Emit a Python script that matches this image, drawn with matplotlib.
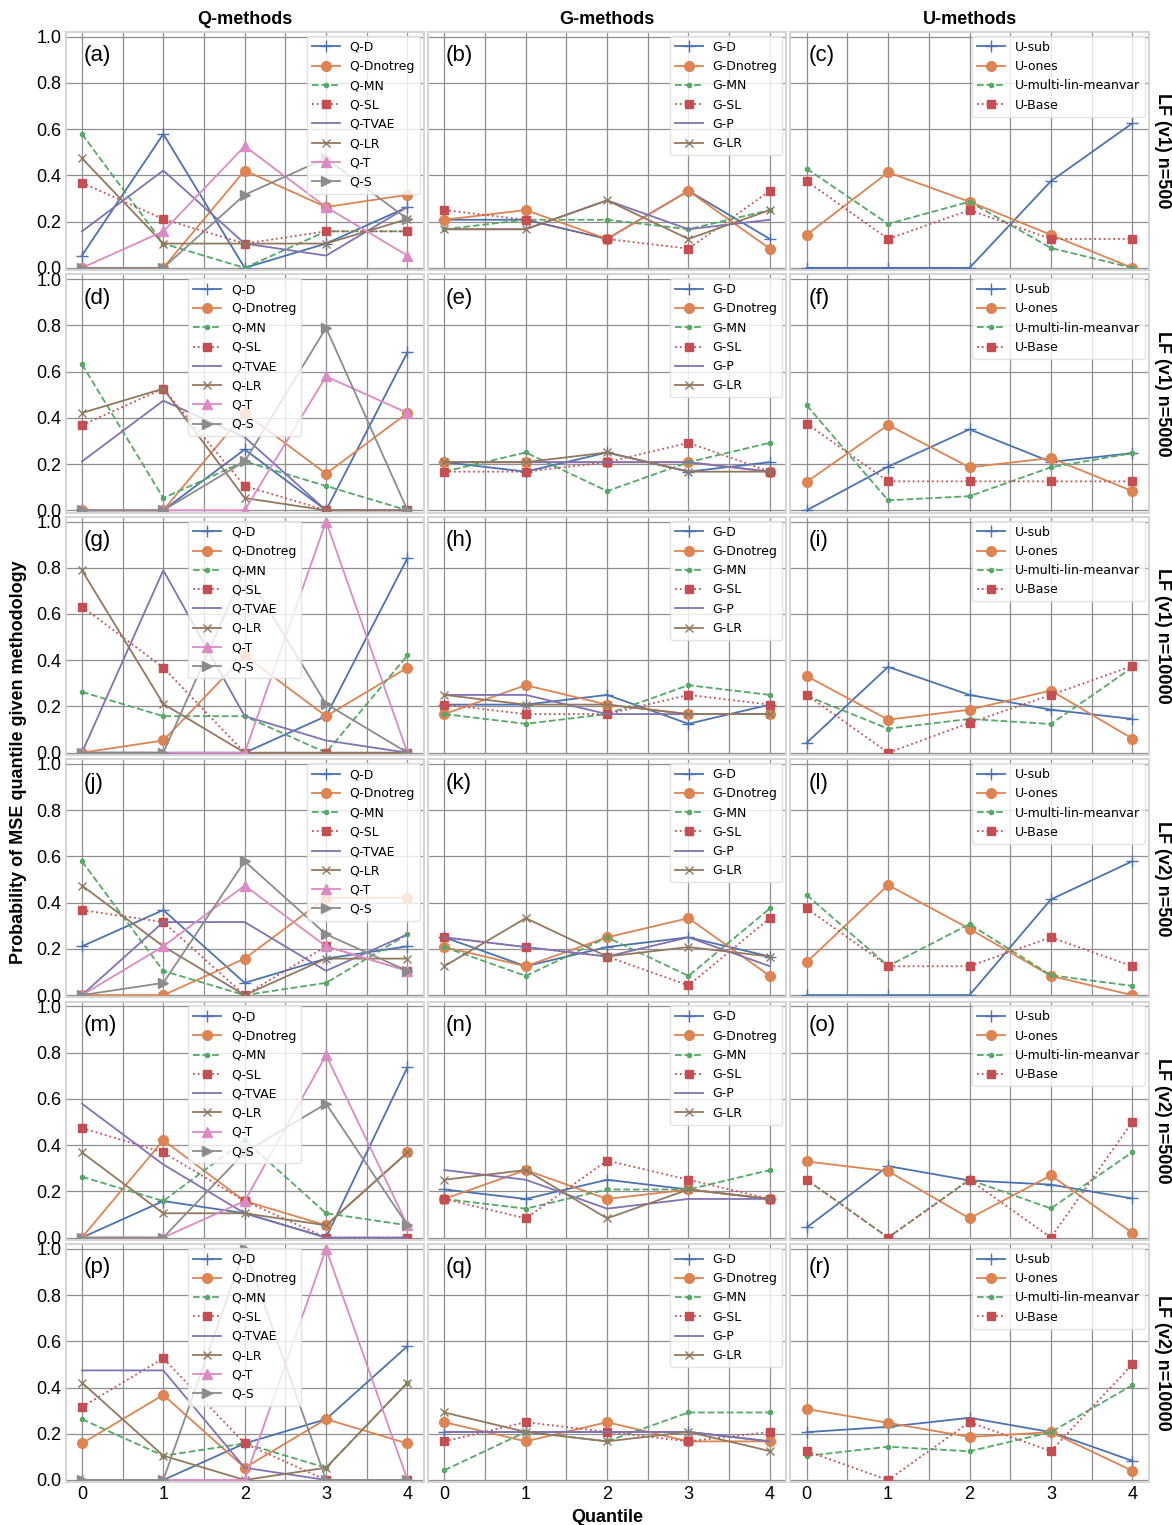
import numpy as np
import matplotlib
matplotlib.use("Agg")
import matplotlib.pyplot as plt
from matplotlib.ticker import MultipleLocator

plt.rcParams["font.family"] = ["Liberation Sans", "DejaVu Sans"]

quantiles = [0, 1, 2, 3, 4]

q_methods = ["Q-D", "Q-Dnotreg", "Q-MN", "Q-SL", "Q-TVAE", "Q-LR", "Q-T", "Q-S"]
g_methods = ["G-D", "G-Dnotreg", "G-MN", "G-SL", "G-P", "G-LR"]
u_methods = ["U-sub", "U-ones", "U-multi-lin-meanvar", "U-Base"]

row_labels = ["LF (v1) n=500", "LF (v1) n=5000", "LF (v1) n=10000",
              "LF (v2) n=500", "LF (v2) n=5000", "LF (v2) n=10000"]
col_titles = ["Q-methods", "G-methods", "U-methods"]
panel_letters = ["(a)", "(b)", "(c)", "(d)", "(e)", "(f)", "(g)", "(h)", "(i)",
                 "(j)", "(k)", "(l)", "(m)", "(n)", "(o)", "(p)", "(q)", "(r)"]

# Q-methods, one row per method (order of q_methods)
q_a = [[0.053, 0.579, 0.0, 0.105, 0.263],
       [0.0, 0.0, 0.421, 0.263, 0.316],
       [0.579, 0.105, 0.0, 0.158, 0.158],
       [0.368, 0.211, 0.105, 0.158, 0.158],
       [0.158, 0.421, 0.105, 0.053, 0.263],
       [0.474, 0.105, 0.105, 0.105, 0.211],
       [0.0, 0.158, 0.526, 0.263, 0.053],
       [0.0, 0.0, 0.316, 0.474, 0.211]]
q_d = [[0.0, 0.0, 0.263, 0.0, 0.684],
       [0.0, 0.0, 0.421, 0.158, 0.421],
       [0.632, 0.053, 0.211, 0.105, 0.0],
       [0.368, 0.526, 0.105, 0.0, 0.0],
       [0.211, 0.474, 0.316, 0.0, 0.0],
       [0.421, 0.526, 0.053, 0.0, 0.0],
       [0.0, 0.0, 0.0, 0.579, 0.421],
       [0.0, 0.0, 0.211, 0.789, 0.0]]
q_g = [[0.0, 0.0, 0.0, 0.158, 0.842],
       [0.0, 0.053, 0.421, 0.158, 0.368],
       [0.263, 0.158, 0.158, 0.0, 0.421],
       [0.632, 0.368, 0.0, 0.0, 0.0],
       [0.0, 0.789, 0.158, 0.053, 0.0],
       [0.789, 0.211, 0.0, 0.0, 0.0],
       [0.0, 0.0, 0.0, 1.0, 0.0],
       [0.0, 0.0, 0.789, 0.211, 0.0]]
q_j = [[0.211, 0.368, 0.053, 0.158, 0.211],
       [0.0, 0.0, 0.158, 0.421, 0.421],
       [0.579, 0.105, 0.0, 0.053, 0.263],
       [0.368, 0.316, 0.0, 0.211, 0.105],
       [0.0, 0.316, 0.316, 0.105, 0.263],
       [0.474, 0.211, 0.0, 0.158, 0.158],
       [0.0, 0.211, 0.474, 0.211, 0.105],
       [0.0, 0.053, 0.579, 0.263, 0.105]]
q_m = [[0.0, 0.158, 0.105, 0.0, 0.737],
       [0.0, 0.421, 0.158, 0.053, 0.368],
       [0.263, 0.158, 0.421, 0.105, 0.053],
       [0.474, 0.368, 0.158, 0.0, 0.0],
       [0.579, 0.316, 0.105, 0.0, 0.0],
       [0.368, 0.105, 0.105, 0.053, 0.368],
       [0.0, 0.0, 0.158, 0.789, 0.053],
       [0.0, 0.0, 0.368, 0.579, 0.053]]
q_p = [[0.0, 0.0, 0.158, 0.263, 0.579],
       [0.158, 0.368, 0.053, 0.263, 0.158],
       [0.263, 0.105, 0.158, 0.053, 0.421],
       [0.316, 0.526, 0.158, 0.0, 0.0],
       [0.474, 0.474, 0.053, 0.0, 0.0],
       [0.421, 0.105, 0.0, 0.053, 0.421],
       [0.0, 0.0, 0.0, 1.0, 0.0],
       [0.0, 0.0, 1.0, 0.0, 0.0]]

# G-methods (order of g_methods)
g_b = [[0.208, 0.208, 0.125, 0.333, 0.125],
       [0.208, 0.25, 0.125, 0.333, 0.083],
       [0.167, 0.208, 0.208, 0.167, 0.25],
       [0.25, 0.208, 0.125, 0.083, 0.333],
       [0.167, 0.167, 0.292, 0.167, 0.208],
       [0.167, 0.167, 0.292, 0.125, 0.25]]
g_e = [[0.208, 0.167, 0.25, 0.167, 0.208],
       [0.208, 0.208, 0.208, 0.208, 0.167],
       [0.167, 0.25, 0.083, 0.208, 0.292],
       [0.167, 0.167, 0.208, 0.292, 0.167],
       [0.208, 0.208, 0.208, 0.208, 0.167],
       [0.208, 0.208, 0.25, 0.167, 0.167]]
g_h = [[0.208, 0.208, 0.25, 0.125, 0.208],
       [0.167, 0.292, 0.208, 0.167, 0.167],
       [0.167, 0.125, 0.167, 0.292, 0.25],
       [0.208, 0.167, 0.167, 0.25, 0.208],
       [0.25, 0.25, 0.167, 0.167, 0.167],
       [0.25, 0.208, 0.208, 0.167, 0.167]]
g_k = [[0.25, 0.125, 0.208, 0.25, 0.167],
       [0.208, 0.125, 0.25, 0.333, 0.083],
       [0.208, 0.083, 0.25, 0.083, 0.375],
       [0.25, 0.208, 0.167, 0.042, 0.333],
       [0.25, 0.208, 0.167, 0.25, 0.125],
       [0.125, 0.333, 0.167, 0.208, 0.167]]
g_n = [[0.208, 0.167, 0.25, 0.208, 0.167],
       [0.167, 0.292, 0.167, 0.208, 0.167],
       [0.167, 0.125, 0.208, 0.208, 0.292],
       [0.167, 0.083, 0.333, 0.25, 0.167],
       [0.292, 0.25, 0.125, 0.167, 0.167],
       [0.25, 0.292, 0.083, 0.208, 0.167]]
g_q = [[0.208, 0.208, 0.208, 0.208, 0.167],
       [0.25, 0.167, 0.25, 0.167, 0.167],
       [0.042, 0.208, 0.167, 0.292, 0.292],
       [0.167, 0.25, 0.208, 0.167, 0.208],
       [0.208, 0.208, 0.208, 0.208, 0.167],
       [0.292, 0.208, 0.167, 0.208, 0.125]]

# U-methods (order of u_methods)
u_c = [[0.0, 0.0, 0.0, 0.375, 0.625],
       [0.143, 0.413, 0.286, 0.143, 0.0],
       [0.429, 0.19, 0.286, 0.086, 0.0],
       [0.375, 0.125, 0.25, 0.125, 0.125]]
u_f = [[0.0, 0.189, 0.35, 0.209, 0.247],
       [0.123, 0.369, 0.186, 0.226, 0.083],
       [0.454, 0.043, 0.061, 0.186, 0.247],
       [0.375, 0.125, 0.125, 0.125, 0.125]]
u_i = [[0.043, 0.371, 0.25, 0.186, 0.146],
       [0.331, 0.143, 0.186, 0.269, 0.061],
       [0.246, 0.104, 0.146, 0.124, 0.369],
       [0.25, 0.0, 0.129, 0.25, 0.375]]
u_l = [[0.0, 0.0, 0.0, 0.414, 0.579],
       [0.143, 0.476, 0.287, 0.083, 0.0],
       [0.433, 0.126, 0.307, 0.086, 0.04],
       [0.375, 0.125, 0.125, 0.25, 0.125]]
u_o = [[0.044, 0.309, 0.247, 0.229, 0.169],
       [0.329, 0.287, 0.083, 0.269, 0.021],
       [0.25, 0.0, 0.25, 0.126, 0.369],
       [0.25, 0.0, 0.25, 0.0, 0.5]]
u_r = [[0.207, 0.23, 0.269, 0.207, 0.083],
       [0.307, 0.247, 0.186, 0.207, 0.04],
       [0.104, 0.144, 0.124, 0.207, 0.41],
       [0.125, 0.0, 0.25, 0.125, 0.5]]

panels = [[q_a, g_b, u_c], [q_d, g_e, u_f], [q_g, g_h, u_i],
          [q_j, g_k, u_l], [q_m, g_n, u_o], [q_p, g_q, u_r]]
method_names = [q_methods, g_methods, u_methods]

colors = ["#4C72B0", "#DD8452", "#55A868", "#C44E52",
          "#8172B3", "#937860", "#DA8BC3", "#8C8C8C"]
styles = [dict(marker="+", ls="-", ms=8),
          dict(marker="o", ls="-", ms=7),
          dict(marker=".", ls="--", ms=6),
          dict(marker="s", ls=":", ms=6),
          dict(marker=None, ls="-", ms=6),
          dict(marker="x", ls="-", ms=6),
          dict(marker="^", ls="-", ms=7),
          dict(marker=">", ls="-", ms=7)]

fig, axes = plt.subplots(6, 3, figsize=(11.72, 15.25), dpi=100,
                         sharex=True, sharey=True)
fig.subplots_adjust(left=0.056, right=0.98, top=0.979, bottom=0.028,
                    wspace=0.012, hspace=0.018)

for r in range(6):
    for c in range(3):
        ax = axes[r, c]
        data = panels[r][c]
        for k, (name, vals) in enumerate(zip(method_names[c], data)):
            st = styles[k]
            ax.plot(quantiles, vals, color=colors[k], linestyle=st["ls"],
                    marker=st["marker"], markersize=st["ms"], linewidth=1.3,
                    label=name)
        ax.set_ylim(-0.01, 1.02)
        ax.set_xlim(-0.2, 4.2)
        ax.xaxis.set_major_locator(MultipleLocator(1))
        ax.xaxis.set_minor_locator(MultipleLocator(0.5))
        ax.yaxis.set_major_locator(MultipleLocator(0.2))
        ax.grid(True, which="both", axis="x", color="#8f8f8f", linewidth=0.9)
        ax.grid(True, which="major", axis="y", color="#8f8f8f", linewidth=0.9)
        ax.set_axisbelow(True)
        for sp in ax.spines.values():
            sp.set_color("#d5d5d5")
            sp.set_linewidth(1.5)
        ax.tick_params(which="both", length=0, labelsize=13, pad=3)
        ax.text(0.05, 0.9, panel_letters[r * 3 + c], transform=ax.transAxes,
                fontsize=16, va="center", ha="left")
        if c == 0 and r in (1, 2, 4, 5):
            loc = "upper center"
        else:
            loc = "upper right"
        ax.legend(loc=loc, prop={"family": "DejaVu Sans", "size": 9},
                  framealpha=0.8, edgecolor="#dddddd", fancybox=True,
                  handlelength=2.2, borderaxespad=0.3)
        if r == 0:
            ax.set_title(col_titles[c], fontsize=13, fontweight="bold", pad=6)
        if c == 2:
            ax.text(1.015, 0.5, row_labels[r], transform=ax.transAxes,
                    rotation=270, va="center", ha="left", fontsize=13,
                    fontweight="bold")

fig.text(0.016, 0.5, "Probability of MSE quantile given methodology",
         rotation=90, va="center", ha="center", fontsize=13, fontweight="bold")
fig.text(0.518, 0.0046, "Quantile", va="center", ha="center", fontsize=13,
         fontweight="bold")

fig.savefig("out.png", dpi=100)
